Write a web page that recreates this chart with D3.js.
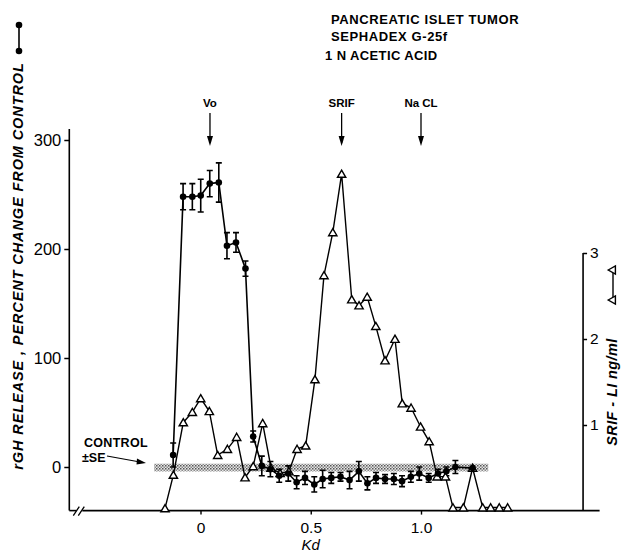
<!DOCTYPE html>
<html>
<head>
<meta charset="utf-8">
<script src="https://cdn.jsdelivr.net/npm/d3@7"></script>
<style>
  html, body { margin: 0; padding: 0; background: #fff; }
  svg { display: block; font-family: "Liberation Sans", Arial, sans-serif; }
</style>
</head>
<body>
<svg id="chart" width="623" height="553"></svg>
<script>
// ---------- data ----------
// SRIF-LI (open triangles, right axis, ng/ml)
const triKd  = [-0.161,-0.123,-0.078,-0.037,0.001,0.040,0.078,0.122,0.164,0.202,0.239,0.282,0.320,0.361,0.401,0.438,0.477,0.519,0.560,0.600,0.640,0.686,0.719,0.756,0.795,0.837,0.882,0.915,0.955,0.998,1.037,1.073,1.111,1.145,1.192,1.234,1.280,1.316,1.355,1.393];
const triVal = [0.03,0.42,1.03,1.15,1.31,1.16,0.65,0.72,0.86,0.39,0.52,1.02,0.50,0.44,0.46,0.72,0.76,1.53,2.74,3.24,3.92,2.46,2.39,2.49,2.15,1.75,2.00,1.25,1.20,0.98,0.81,0.40,0.40,0.04,0.04,0.50,0.04,0.04,0.04,0.04];
// rGH release (filled circles +/- SE, left axis, % change from control)
const rghKd  = [-0.124,-0.079,-0.037,0.001,0.042,0.083,0.120,0.161,0.204,0.239,0.278,0.317,0.357,0.398,0.436,0.474,0.516,0.554,0.593,0.635,0.676,0.718,0.757,0.796,0.837,0.877,0.914,0.954,0.992,1.035,1.077,1.115,1.156,1.234];
const rghVal = [11,248,248,249,260,261,203,206,182,28,1,-2,-8,-6,-14,-10,-16,-11,-10,-9,-12,-4,-15,-10,-11,-11,-13,-9,-6,-10,-6,-4,0,-1];
const rghErr = [11,12,12,15,12,18,12,9,7,5,9,7,6,7,6,6,7,8,5,4,8,9,6,5,4,5,5,5,6,4,4,4,6,0];
// control band (mean +/- SE)
const bandKd = [-0.21, 1.305];
const bandVal = [3, -4];
// markers
const markerLabels = ["Vo", "SRIF", "Na CL"];
const markerKd = [0.043, 0.640, 1.000];
// ticks
const leftTicks = [0, 100, 200, 300];
const rightTicks = [1, 2, 3];
const xTicks = [0, 0.5, 1.0];
const xTickLabels = ["0", "0.5", "1.0"];
const titleLines = ["PANCREATIC ISLET TUMOR", "SEPHADEX G-25f", "1 N ACETIC ACID"];

// ---------- scales ----------
const svg = d3.select("#chart");
const x  = d3.scaleLinear().domain([-0.6, 1.8]).range([68.2, 597.4]);
const yL = d3.scaleLinear().domain([-40, 310]).range([510.6, 129.1]);
const yR = d3.scaleLinear().domain([0, 3]).range([511, 253]);

// pattern for band
const defs = svg.append("defs");
const pat = defs.append("pattern").attr("id", "dots").attr("patternUnits", "userSpaceOnUse")
  .attr("width", 3).attr("height", 3);
pat.append("rect").attr("width", 3).attr("height", 3).attr("fill", "#e6e6e6");
pat.append("rect").attr("x", 0).attr("y", 0).attr("width", 1.5).attr("height", 1.5).attr("fill", "#555");
pat.append("rect").attr("x", 1.5).attr("y", 1.5).attr("width", 1.5).attr("height", 1.5).attr("fill", "#888");

svg.append("rect")
  .attr("x", x(bandKd[0])).attr("width", x(bandKd[1]) - x(bandKd[0]))
  .attr("y", yL(bandVal[0])).attr("height", yL(bandVal[1]) - yL(bandVal[0]))
  .attr("fill", "url(#dots)");

// ---------- axes ----------
const axisFont = (g, size) => g.selectAll("text").attr("font-size", size).attr("fill", "#000")
  .attr("font-family", "'Liberation Sans', Arial, sans-serif");

const gL = svg.append("g").attr("transform", `translate(${x(-0.595)},0)`)
  .call(d3.axisLeft(yL).tickValues(leftTicks).tickSize(5).tickPadding(3).tickFormat(d3.format("d")));
gL.select(".domain").attr("stroke-width", 1.6).attr("d", `M0,${yL(310)}V${yL(-40)}`);
gL.selectAll(".tick line").attr("stroke-width", 1.5);
axisFont(gL, 16.5);

// bottom axis with break
const gB = svg.append("g").attr("transform", `translate(0,${yL(-40)})`)
  .call(d3.axisBottom(x).tickValues(xTicks).tickSize(4).tickPadding(7).tickFormat((d, i) => xTickLabels[i]));
gB.select(".domain").remove();
gB.selectAll(".tick line").attr("stroke-width", 1.4);
axisFont(gB, 15.5);
const x0 = x(-0.595);
gB.append("path").attr("d", `M${x0},0H${x0 + 7}`).attr("stroke", "#000").attr("stroke-width", 1.6);
gB.append("path").attr("d", `M${x0 + 13},0H${x(1.81)}`).attr("stroke", "#000").attr("stroke-width", 1.6);
gB.append("path").attr("d", `M${x0 + 4},5L${x0 + 10},-4M${x0 + 9},5L${x0 + 15},-4`).attr("stroke", "#000").attr("stroke-width", 1.3);

const gR = svg.append("g").attr("transform", `translate(${x(1.735)},0)`)
  .call(d3.axisRight(yR).tickValues(rightTicks).tickSize(4).tickPadding(3).tickFormat(d3.format("d")));
gR.select(".domain").attr("stroke-width", 1.6).attr("d", `M0,${yR(3)}V${yR(0)}`);
gR.selectAll(".tick line").attr("stroke-width", 1.5);
axisFont(gR, 15.5);

// ---------- lines ----------
const lineTri = d3.line().x((d, i) => x(triKd[i])).y(d => yR(d));
svg.append("path").datum(triVal).attr("d", lineTri).attr("fill", "none").attr("stroke", "#000").attr("stroke-width", 1.4);

const lineR = d3.line().x((d, i) => x(rghKd[i])).y(d => yL(d));
svg.append("path").datum(rghVal).attr("d", lineR).attr("fill", "none").attr("stroke", "#000").attr("stroke-width", 1.6);

// error bars
const eb = svg.append("g").attr("stroke", "#000").attr("stroke-width", 1.6);
rghVal.forEach((v, i) => {
  const e = rghErr[i];
  if (!e) return;
  const cx = x(rghKd[i]);
  eb.append("path").attr("d",
    `M${cx},${yL(v + e)}V${yL(v - e)}M${cx - 3},${yL(v + e)}H${cx + 3}M${cx - 3},${yL(v - e)}H${cx + 3}`);
});

// markers
const tri = d3.symbol().type(d3.symbolTriangle).size(30);
svg.append("g").selectAll("path").data(triVal).join("path")
  .attr("d", tri)
  .attr("transform", (d, i) => `translate(${x(triKd[i])},${yR(d) + 1})`)
  .attr("fill", "#fff").attr("stroke", "#000").attr("stroke-width", 1.4);

svg.append("g").selectAll("circle").data(rghVal).join("circle")
  .attr("cx", (d, i) => x(rghKd[i])).attr("cy", d => yL(d)).attr("r", 3.3).attr("fill", "#000");

// ---------- annotations ----------
const txt = (t, px, py, size, opts = {}) => svg.append("text").text(t).attr("x", px).attr("y", py)
  .attr("font-size", size).attr("font-weight", opts.w || "bold").attr("text-anchor", opts.a || "start")
  .attr("font-style", opts.s || "normal").attr("letter-spacing", opts.ls || 0).attr("fill", "#000");

txt(titleLines[0], 331, 24, 13, { ls: 0.6 });
txt(titleLines[1], 331, 41, 13, { ls: 0.6 });
txt(titleLines[2], 325, 60, 13, { ls: 0.4 });

markerLabels.forEach((m, i) => {
  const mx = x(markerKd[i]);
  txt(m, mx, 107, 11.5, { a: "middle" });
  svg.append("path").attr("d", `M${mx},113V143`).attr("stroke", "#000").attr("stroke-width", 1.3);
  svg.append("path").attr("d", `M${mx - 3},136L${mx},146L${mx + 3},136Z`).attr("fill", "#000");
});

txt("CONTROL", 84, 447, 12.5, { ls: 0.3 });
txt("±SE", 82, 462, 12.5);
svg.append("path").attr("d", "M107,456L140,462").attr("stroke", "#000").attr("stroke-width", 1.2);
svg.append("path").attr("d", "M146,463L137,458.5L136.5,464.5Z").attr("fill", "#000");

txt("Kd", x(0.5), 550, 15, { a: "middle", s: "italic", w: "normal" });

// left axis label + legend
svg.append("text").text("rGH RELEASE , PERCENT CHANGE FROM CONTROL")
  .attr("transform", "translate(23,266) rotate(-90)")
  .attr("text-anchor", "middle").attr("font-size", 14.5).attr("letter-spacing", 0.9)
  .attr("font-weight", "bold").attr("font-style", "italic");
svg.append("path").attr("d", "M19,25V51").attr("stroke", "#000").attr("stroke-width", 1.6);
svg.append("circle").attr("cx", 19).attr("cy", 25).attr("r", 3.3);
svg.append("circle").attr("cx", 19).attr("cy", 51).attr("r", 3.3);

// right axis label + legend
svg.append("text").text("SRIF - LI  ng/ml")
  .attr("transform", "translate(617,392) rotate(-90)")
  .attr("text-anchor", "middle").attr("font-size", 14.5).attr("letter-spacing", 0.4)
  .attr("font-weight", "bold").attr("font-style", "italic");
svg.append("path").attr("d", "M613,270V299").attr("stroke", "#000").attr("stroke-width", 1.4);
[270, 300].forEach(py => svg.append("path").attr("d", tri)
  .attr("transform", `translate(613,${py}) rotate(-90)`)
  .attr("fill", "#fff").attr("stroke", "#000").attr("stroke-width", 1.4));
</script>
</body>
</html>
